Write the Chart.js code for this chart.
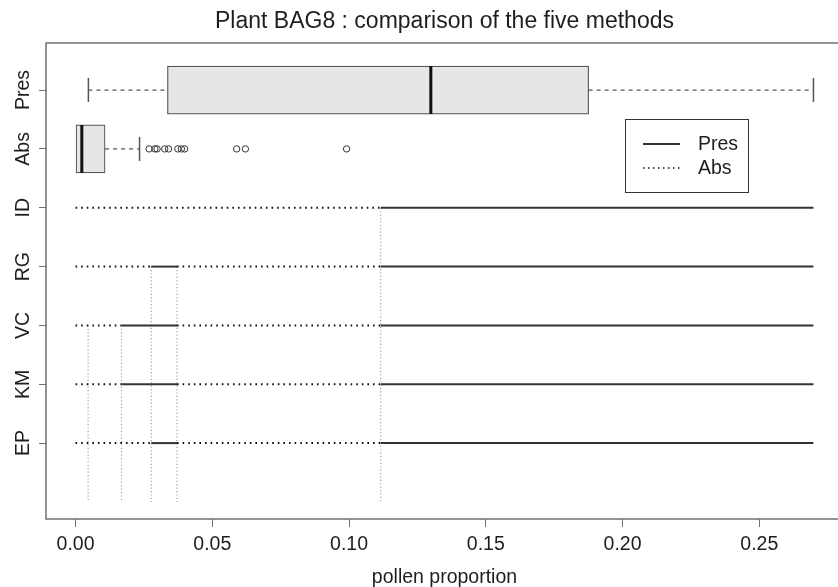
<!DOCTYPE html>
<html>
<head>
<meta charset="utf-8">
<script src="https://cdn.jsdelivr.net/npm/chart.js@4.4.1/dist/chart.umd.min.js"></script>
<style>
  html, body { margin: 0; padding: 0; background: #fff; overflow: hidden; }
  #wrap { width: 848px; height: 587px; }
</style>
</head>
<body>
<div id="wrap"><canvas id="chart"></canvas></div>
<script>
// rows from top to bottom (y = 1..7), level 8 is the empty bottom row
const rows = ['Pres', 'Abs', 'ID', 'RG', 'VC', 'KM', 'EP'];
const bottomLevel = 8;

// boxplot stats: min, q1, median, q3, max
const presStats = [0.0047, 0.0336, 0.1299, 0.1876, 0.2698];
const absStats = [0, 0, 0.0023, 0.0108, 0.0234];
const absOutliers = [0.0269, 0.0290, 0.0298, 0.0326, 0.0340, 0.0374, 0.0387, 0.0399, 0.0589, 0.0621, 0.0991];

// each method: cut points, segments alternate Abs / Pres starting with Abs
const methodNames = ['ID', 'RG', 'VC', 'KM', 'EP'];
const cutsID = [0, 0.1116, 0.2698];
const cutsRG = [0, 0.0277, 0.0371, 0.1116, 0.2698];
const cutsVC = [0, 0.0168, 0.0371, 0.1116, 0.2698];
const cutsKM = [0, 0.0168, 0.0371, 0.1116, 0.2698];
const cutsEP = [0, 0.0277, 0.0371, 0.1116, 0.2698];
const methodCuts = [cutsID, cutsRG, cutsVC, cutsKM, cutsEP];

// vertical threshold lines and the row they start from
const vCuts = [0.0046, 0.0168, 0.0277, 0.0371, 0.1116];
const vFrom = ['VC', 'VC', 'RG', 'RG', 'ID'];

const xTicks = [0, 0.05, 0.10, 0.15, 0.20, 0.25];

const FONT = '"Liberation Sans", Arial, Helvetica, sans-serif';
const INK = '#1e1e1e';
const LABEL_SIZE = 19.5;
const BOXH = 0.408;   // half box height in row units
const CAPH = 0.204;

function yOf(name) { return rows.indexOf(name) + 1; }

let datasets = [];

// method rows (dotted = Abs, solid = Pres)
methodNames.forEach((m, i) => {
  let y = yOf(m);
  datasets.push({
    type: 'line',
    data: methodCuts[i].map(x => ({ x: x, y: y })),
    borderColor: '#2a2a2a',
    borderWidth: 2,
    pointRadius: 0,
    segment: {
      borderDash: ctx => ctx.p0DataIndex % 2 === 0 ? [1.6, 4] : [],
      borderColor: ctx => ctx.p0DataIndex % 2 === 0 ? '#111' : '#333'
    }
  });
});

// vertical dotted thresholds
vCuts.forEach((x, i) => {
  datasets.push({
    type: 'line',
    data: [{ x: x, y: yOf(vFrom[i]) }, { x: x, y: bottomLevel }],
    borderColor: '#a0a0a0',
    borderWidth: 1.2,
    borderDash: [1.2, 2.2],
    pointRadius: 0
  });
});

// boxplot pieces
function boxParts(stats, y) {
  // whiskers
  if (stats[0] < stats[1]) {
    datasets.push({ type: 'line', data: [{ x: stats[0], y: y }, { x: stats[1], y: y }],
      borderColor: '#555', borderWidth: 1.2, borderDash: [4, 4], pointRadius: 0 });
    datasets.push({ type: 'line', data: [{ x: stats[0], y: y - CAPH }, { x: stats[0], y: y + CAPH }],
      borderColor: '#555', borderWidth: 1.5, pointRadius: 0 });
  }
  datasets.push({ type: 'line', data: [{ x: stats[3], y: y }, { x: stats[4], y: y }],
    borderColor: '#555', borderWidth: 1.2, borderDash: [4, 4], pointRadius: 0 });
  datasets.push({ type: 'line', data: [{ x: stats[4], y: y - CAPH }, { x: stats[4], y: y + CAPH }],
    borderColor: '#555', borderWidth: 1.5, pointRadius: 0 });
  // median
  datasets.push({ type: 'line', data: [{ x: stats[2], y: y - BOXH }, { x: stats[2], y: y + BOXH }],
    borderColor: '#111', borderWidth: 3, pointRadius: 0 });
}
boxParts(presStats, yOf('Pres'));
boxParts(absStats, yOf('Abs'));

datasets.push({
  type: 'scatter',
  data: absOutliers.map(x => ({ x: x, y: yOf('Abs') })),
  pointStyle: 'circle',
  pointRadius: 3.2,
  pointBorderWidth: 1,
  pointBorderColor: '#333',
  pointBackgroundColor: 'rgba(0,0,0,0)'
});

// boxes as floating bars
datasets.push({
  type: 'bar',
  indexAxis: 'y',
  order: 10,
  grouped: false,
  data: [
    { x: [presStats[1], presStats[3]], y: yOf('Pres') },
    { x: [absStats[1], absStats[3]], y: yOf('Abs') }
  ],
  backgroundColor: '#e6e6e6',
  borderColor: '#555',
  borderWidth: 1.2,
  borderSkipped: false,
  barThickness: 48
});

const frameAndLabels = {
  id: 'frameAndLabels',
  afterDraw(chart) {
    const c = chart.ctx, a = chart.chartArea, ys = chart.scales.y;
    c.save();
    // frame
    c.strokeStyle = '#707070';
    c.lineWidth = 1.5;
    c.strokeRect(a.left, a.top, a.right - a.left, a.bottom - a.top);
    // rotated row labels
    c.fillStyle = INK;
    c.font = LABEL_SIZE + 'px ' + FONT;
    c.textAlign = 'center';
    c.textBaseline = 'alphabetic';
    rows.forEach((r, i) => {
      c.save();
      c.translate(28.5, ys.getPixelForValue(i + 1));
      c.rotate(-Math.PI / 2);
      c.fillText(r, 0, 0);
      c.restore();
    });
    // legend
    const lx = 625, ly = 119;
    c.strokeStyle = '#333';
    c.lineWidth = 1;
    c.strokeRect(lx + 0.5, ly + 0.5, 123, 73);
    c.lineWidth = 2;
    c.strokeStyle = '#333';
    c.beginPath(); c.moveTo(643, 144); c.lineTo(680, 144); c.stroke();
    c.setLineDash([1.5, 3.5]);
    c.strokeStyle = '#111';
    c.lineWidth = 1.5;
    c.beginPath(); c.moveTo(643, 168); c.lineTo(680, 168); c.stroke();
    c.setLineDash([]);
    c.textAlign = 'left';
    c.textBaseline = 'middle';
    c.fillText('Pres', 698, 145);
    c.fillText('Abs', 698, 169);
    c.restore();
  }
};

new Chart(document.getElementById('chart'), {
  type: 'line',
  data: { datasets: datasets },
  options: {
    responsive: true,
    maintainAspectRatio: false,
    animation: false,
    layout: { padding: 0 },
    plugins: {
      legend: { display: false },
      tooltip: { enabled: false },
      title: {
        display: true,
        text: 'Plant BAG8 : comparison of the five methods',
        fullSize: false,
        color: INK,
        font: { family: FONT, size: 23, weight: 'normal', lineHeight: 1.2 },
        padding: { top: 7.5, bottom: 7.9 }
      }
    },
    scales: {
      x: {
        type: 'linear',
        min: -0.0108,
        max: 0.2806,
        offset: false,
        afterBuildTicks: s => { s.ticks = xTicks.map(v => ({ value: v })); },
        afterFit: s => { s.height = 68; },
        grid: { offset: false, drawOnChartArea: false, drawTicks: true, tickLength: 8, color: '#707070', lineWidth: 1 },
        border: { display: false },
        ticks: {
          color: INK,
          padding: 6,
          font: { family: FONT, size: LABEL_SIZE },
          callback: v => v.toFixed(2),
          maxRotation: 0
        },
        title: {
          display: true,
          text: 'pollen proportion',
          color: INK,
          font: { family: FONT, size: LABEL_SIZE },
          padding: { top: 0, bottom: -2 }
        }
      },
      y: {
        type: 'linear',
        reverse: true,
        min: 0.2,
        max: 8.29,
        offset: false,
        afterBuildTicks: s => { s.ticks = rows.map((r, i) => ({ value: i + 1 })); },
        afterFit: s => { s.width = 46; },
        grid: { offset: false, drawOnChartArea: false, drawTicks: true, tickLength: 7, color: '#707070', lineWidth: 1 },
        border: { display: false },
        ticks: { display: false }
      }
    }
  },
  plugins: [frameAndLabels]
});
</script>
</body>
</html>
